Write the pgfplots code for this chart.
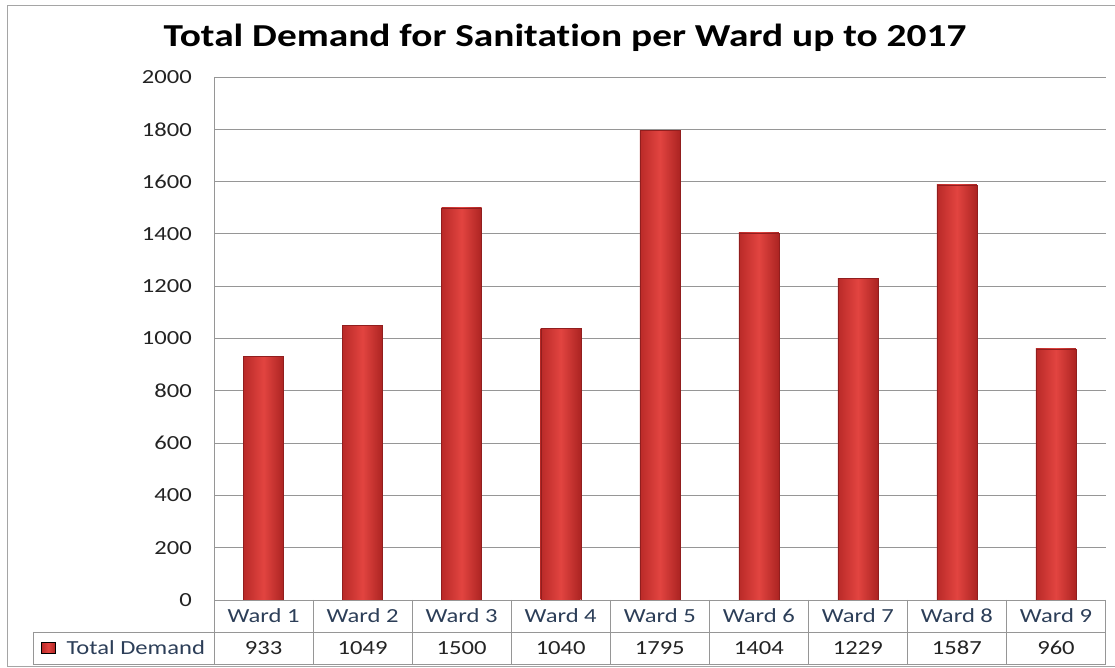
\documentclass[border=0pt]{standalone}
\usepackage{fontspec}
\setmainfont{Carlito}[FakeStretch=1.23, Ligatures={NoCommon}]
\usepackage{pgfplots}
\usepackage{pgfplotstable}
\pgfplotsset{compat=1.18}

\definecolor{gridgray}{RGB}{150,150,150}
\definecolor{framegray}{RGB}{165,165,165}
\definecolor{barlight}{RGB}{226,68,64}
\definecolor{bardark}{RGB}{185,42,40}
\definecolor{barright}{RGB}{172,36,34}
\definecolor{barline}{RGB}{145,30,30}
\definecolor{wardblue}{RGB}{44,62,88}
\definecolor{numgray}{RGB}{35,35,35}

\pgfplotstableread{
x v
1 933
2 1049
3 1500
4 1040
5 1795
6 1404
7 1229
8 1587
9 960
}\demand

\begin{document}
\begin{tikzpicture}[x=1pt,y=1pt]
\useasboundingbox (0,0) rectangle (1115,668);
% outer chart frame
\draw[framegray, line width=1pt] (1115,662) -- (7,662) -- (7,1.5) -- (1115,1.5);
% chart title
\node[font=\fontsize{32}{36}\selectfont\bfseries, text=black] at (565,630) {Total Demand for Sanitation per Ward up to 2017};

\begin{axis}[
  at={(214pt,68pt)}, anchor=south west,
  scale only axis, width=891.5pt, height=523pt,
  xmin=0.5, xmax=9.5, ymin=0, ymax=2000,
  clip=false,
  axis line style={draw=none},
  major tick length=0pt,
  ytick={0,200,...,2000},
  ymajorgrids, grid style={gridgray, line width=0.8pt},
  yticklabel style={font=\fontsize{20}{24}\selectfont, text=numgray, anchor=east, inner sep=0pt, xshift=-22pt},
  /pgf/number format/assume math mode=true,
  /pgf/number format/1000 sep={},
  xtick={1,...,9},
  xticklabels={Ward 1,Ward 2,Ward 3,Ward 4,Ward 5,Ward 6,Ward 7,Ward 8,Ward 9},
  xticklabel style={font=\fontsize{20}{24}\selectfont, text=wardblue, anchor=center, inner sep=0pt, yshift=-16pt},
  legend style={at={(axis description cs:-0.194,-0.0918)}, anchor=west, draw=none, fill=none,
    inner sep=0pt, column sep=9pt, font=\fontsize{20}{24}\selectfont, text=wardblue},
  legend image code/.code={\fill[left color=bardark, right color=barright, middle color=barlight] (0pt,-5.5pt) rectangle (14pt,5.5pt);},
]
% one shaded bar per ward, so every bar gets its own cylinder shading
\pgfplotsinvokeforeach{1,...,9}{
  \addplot[ybar, bar width=40pt, bar shift=0pt, forget plot,
    draw=barline, line width=0.4pt,
    left color=bardark, right color=barright, middle color=barlight,
    restrict x to domain=#1:#1]
    table[x=x, y=v] {\demand};
}
\addlegendimage{}
\addlegendentry{Total Demand}

% value row of the data table
\addplot[draw=none, mark=none, forget plot,
  nodes near coords, point meta=explicit symbolic,
  every node near coord/.append style={anchor=center, font=\fontsize{20}{24}\selectfont, text=numgray}]
  table[x=x, y expr=-183.6, meta=v] {\demand};

% data table grid
\draw[gridgray, line width=0.8pt] (axis cs:0.5,2000) -- ([yshift=-64pt]axis cs:0.5,0);
\draw[gridgray, line width=0.8pt] (axis cs:0.5,0) -- (axis cs:9.5,0);
\draw[gridgray, line width=0.8pt] ([xshift=-181pt,yshift=-32pt]axis cs:0.5,0) -- ([yshift=-32pt]axis cs:9.5,0);
\draw[gridgray, line width=0.8pt] ([xshift=-181pt,yshift=-64pt]axis cs:0.5,0) -- ([yshift=-64pt]axis cs:9.5,0);
\draw[gridgray, line width=0.8pt] ([xshift=-181pt,yshift=-32pt]axis cs:0.5,0) -- ([xshift=-181pt,yshift=-64pt]axis cs:0.5,0);
\draw[gridgray, line width=0.8pt] (axis cs:1.5,0) -- ([yshift=-64pt]axis cs:1.5,0);
\draw[gridgray, line width=0.8pt] (axis cs:2.5,0) -- ([yshift=-64pt]axis cs:2.5,0);
\draw[gridgray, line width=0.8pt] (axis cs:3.5,0) -- ([yshift=-64pt]axis cs:3.5,0);
\draw[gridgray, line width=0.8pt] (axis cs:4.5,0) -- ([yshift=-64pt]axis cs:4.5,0);
\draw[gridgray, line width=0.8pt] (axis cs:5.5,0) -- ([yshift=-64pt]axis cs:5.5,0);
\draw[gridgray, line width=0.8pt] (axis cs:6.5,0) -- ([yshift=-64pt]axis cs:6.5,0);
\draw[gridgray, line width=0.8pt] (axis cs:7.5,0) -- ([yshift=-64pt]axis cs:7.5,0);
\draw[gridgray, line width=0.8pt] (axis cs:8.5,0) -- ([yshift=-64pt]axis cs:8.5,0);
\draw[gridgray, line width=0.8pt] (axis cs:9.5,0) -- ([yshift=-64pt]axis cs:9.5,0);
\end{axis}
\end{tikzpicture}
\end{document}
